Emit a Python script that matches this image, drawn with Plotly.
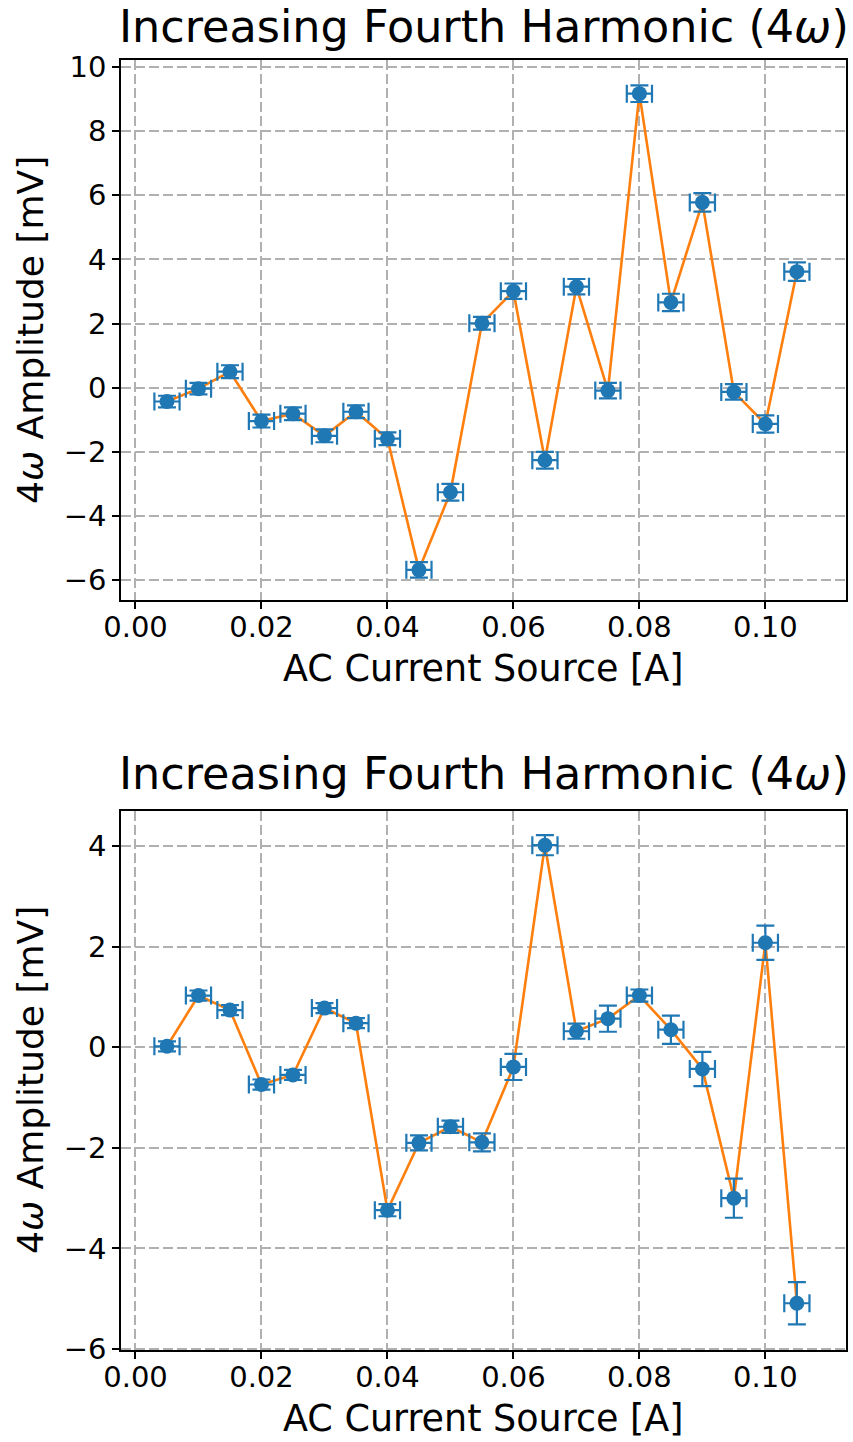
import plotly.graph_objects as go

# ---------------- data ----------------
current_a = [0.005, 0.010, 0.015, 0.020, 0.025, 0.030, 0.035, 0.040, 0.045, 0.050,
             0.055, 0.060, 0.065, 0.070, 0.075, 0.080, 0.085, 0.090, 0.095, 0.100, 0.105]
current_err = [0.002] * 21

top_amp_mv = [-0.43, -0.03, 0.50, -1.04, -0.81, -1.50, -0.75, -1.59, -5.68, -3.26,
              2.01, 3.01, -2.26, 3.15, -0.09, 9.17, 2.66, 5.78, -0.13, -1.13, 3.62]
top_amp_err = [0.18, 0.18, 0.20, 0.20, 0.20, 0.20, 0.20, 0.20, 0.24, 0.26,
               0.20, 0.24, 0.26, 0.24, 0.24, 0.26, 0.27, 0.29, 0.24, 0.27, 0.29]

bot_amp_mv = [0.02, 1.03, 0.74, -0.74, -0.55, 0.78, 0.48, -3.24, -1.90, -1.58,
              -1.89, -0.39, 4.02, 0.32, 0.57, 1.03, 0.35, -0.43, -3.00, 2.08, -5.09]
bot_amp_err = [0.10, 0.10, 0.10, 0.10, 0.10, 0.10, 0.10, 0.12, 0.15, 0.12,
               0.18, 0.26, 0.20, 0.15, 0.26, 0.12, 0.28, 0.34, 0.39, 0.34, 0.42]

title_text = "Increasing Fourth Harmonic (4<i>ω</i>)"
xlabel_text = "AC Current Source [A]"
ylabel_text = "4<i>ω</i> Amplitude [mV]"

# ---------------- styling ----------------
W, H = 853, 1442
FONT = "DejaVu Sans"
BLUE = "#1f77b4"
ORANGE = "#ff7f0e"
GRID = "#b0b0b0"

def py(px):  # pixel (from top) -> paper y
    return 1 - px / H

def px_x(px):
    return px / W

x_dom = [px_x(121), px_x(846)]
top_dom = [py(600), py(60)]
bot_dom = [py(1350), py(811)]

fig = go.Figure()

def add_panel(yvals, yerr, xa, ya):
    fig.add_trace(go.Scatter(
        x=current_a, y=yvals, mode="lines",
        line=dict(color=ORANGE, width=2.6),
        xaxis=xa, yaxis=ya, showlegend=False, hoverinfo="skip"))
    fig.add_trace(go.Scatter(
        x=current_a, y=yvals, mode="markers",
        marker=dict(color=BLUE, size=15),
        error_x=dict(type="data", array=current_err, color=BLUE, thickness=2.2, width=9),
        error_y=dict(type="data", array=yerr, color=BLUE, thickness=2.2, width=9),
        xaxis=xa, yaxis=ya, showlegend=False))

add_panel(top_amp_mv, top_amp_err, "x", "y")
add_panel(bot_amp_mv, bot_amp_err, "x2", "y2")

common_axis = dict(
    showline=True, linecolor="black", linewidth=1.5, mirror=True,
    ticks="outside", ticklen=7, tickwidth=1.5, tickcolor="black",
    showgrid=True, gridcolor=GRID, gridwidth=1.5, griddash="10px,4px",
    zeroline=False, automargin=False,
    tickfont=dict(family=FONT, size=29, color="black"),
)

xcommon = dict(common_axis, range=[-0.0023, 0.1128], tick0=0, dtick=0.02,
               tickformat=".2f", domain=x_dom, ticklabelstandoff=-7)

fig.update_layout(
    width=W, height=H,
    margin=dict(l=0, r=0, t=0, b=0, autoexpand=False),
    paper_bgcolor="white", plot_bgcolor="white",
    font=dict(family=FONT, color="black"),
    xaxis=dict(xcommon, anchor="y"),
    yaxis=dict(common_axis, range=[-6.62, 10.22], tick0=0, dtick=2,
               domain=top_dom, anchor="x"),
    xaxis2=dict(xcommon, anchor="y2"),
    yaxis2=dict(common_axis, range=[-6.02, 4.70], tick0=0, dtick=2,
                domain=bot_dom, anchor="x2"),
)

xc = (121 + 846) / 2 / W
annots = []
for title_px, xl_px, yl_px in [(26.5, 668.5, 330), (773.5, 1418, 1080)]:
    annots.append(dict(text=title_text, x=xc, y=py(title_px), xref="paper", yref="paper",
                       xanchor="center", yanchor="middle", showarrow=False,
                       font=dict(family=FONT, size=44.5, color="black")))
    annots.append(dict(text=xlabel_text, x=xc, y=py(xl_px), xref="paper", yref="paper",
                       xanchor="center", yanchor="middle", showarrow=False,
                       font=dict(family=FONT, size=36.5, color="black")))
    annots.append(dict(text=ylabel_text, x=30 / W, y=py(yl_px), xref="paper", yref="paper",
                       xanchor="center", yanchor="middle", showarrow=False, textangle=-90,
                       font=dict(family=FONT, size=36, color="black")))
fig.update_layout(annotations=annots)

fig.write_html("out.html", config={"displayModeBar": False},
               post_script="document.body.style.margin='0';document.body.style.overflow='hidden';")
